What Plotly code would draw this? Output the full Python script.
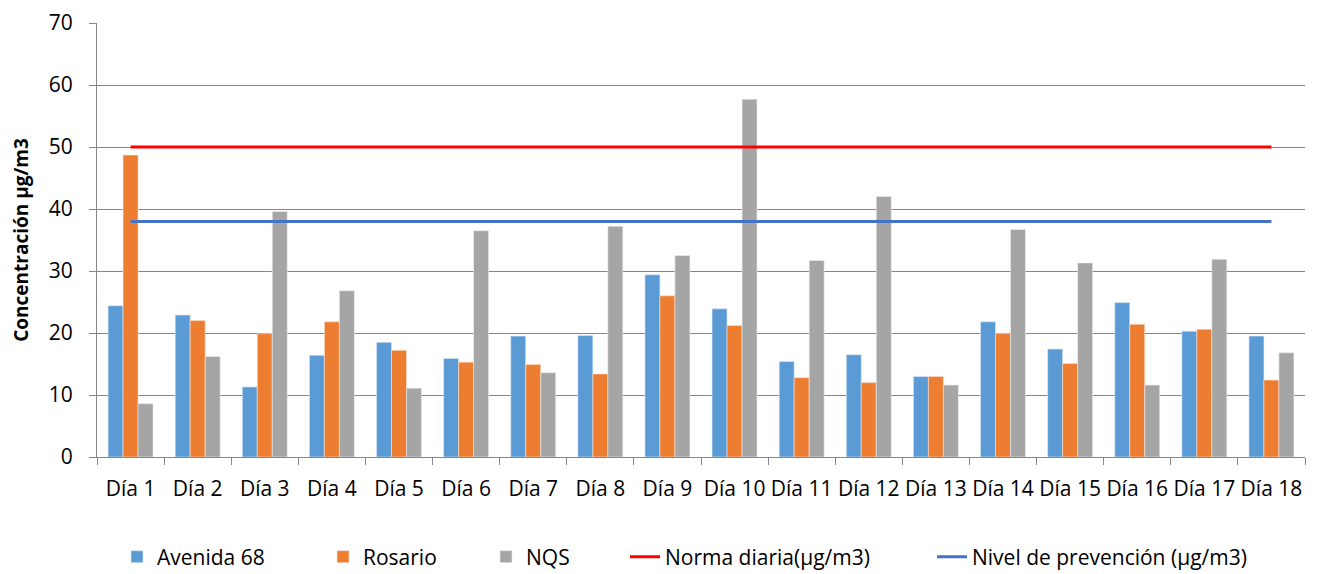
import plotly.graph_objects as go

dias = ["Día %d" % i for i in range(1, 19)]

avenida68 = [24.4, 22.9, 11.3, 16.4, 18.5, 15.9, 19.5, 19.6, 29.4,
             23.9, 15.4, 16.5, 13.0, 21.8, 17.4, 24.9, 20.3, 19.5]
rosario = [48.7, 22.0, 19.9, 21.8, 17.2, 15.3, 14.9, 13.4, 26.0,
           21.2, 12.8, 12.0, 13.0, 19.9, 15.1, 21.4, 20.6, 12.4]
nqs = [8.6, 16.2, 39.6, 26.8, 11.1, 36.5, 13.6, 37.2, 32.5,
       57.7, 31.7, 42.0, 11.6, 36.7, 31.3, 11.6, 31.9, 16.8]
norma_diaria = [50] * 18
nivel_prevencion = [38] * 18

font = "Open Sans"
fsize = 21
# page body has an 8px margin, so the figure is a bit smaller than the window
W, H = 1319, 566

fig = go.Figure()
fig.add_trace(go.Bar(x=dias, y=avenida68, name="Avenida 68", marker_color="#5B9BD5",
                     marker_line=dict(color="#DDEBF7", width=0.6), legend="legend"))
fig.add_trace(go.Bar(x=dias, y=rosario, name="Rosario", marker_color="#ED7D31",
                     marker_line=dict(color="#FBE2D5", width=0.6), legend="legend2"))
fig.add_trace(go.Bar(x=dias, y=nqs, name="NQS", marker_color="#A5A5A5",
                     marker_line=dict(color="#EDEDED", width=0.6), legend="legend3"))
fig.add_trace(go.Scatter(x=dias, y=norma_diaria, name="Norma diaria(µg/m3)",
                         mode="lines", line=dict(color="#FF0000", width=3), legend="legend4"))
fig.add_trace(go.Scatter(x=dias, y=nivel_prevencion, name="Nivel de prevención (µg/m3)",
                         mode="lines", line=dict(color="#4472C4", width=3), legend="legend5"))

# one small legend per entry, placed like the Excel legend row
leg_left_px = [109, 315, 478, 617, 924]


def leg(px):
    return dict(x=px / W, xref="container", xanchor="left",
                y=(H - 549) / H, yref="container", yanchor="middle",
                orientation="h", font=dict(size=fsize), bgcolor="rgba(0,0,0,0)")


fig.update_layout(
    width=W, height=H,
    margin=dict(l=89, r=22, t=15, b=117),
    paper_bgcolor="white", plot_bgcolor="white",
    font=dict(family=font, size=fsize, color="#000000"),
    barmode="group", bargap=0.33, bargroupgap=0,
    showlegend=True,
    legend=leg(leg_left_px[0]),
    legend2=leg(leg_left_px[1]),
    legend3=leg(leg_left_px[2]),
    legend4=leg(leg_left_px[3]),
    legend5=leg(leg_left_px[4]),
)
fig.update_xaxes(
    type="category", showline=True, linecolor="#868686", linewidth=1,
    ticks="outside", tickson="boundaries", ticklen=7, tickcolor="#868686",
    tickfont=dict(size=fsize), tickangle=0, showgrid=False, ticklabelstandoff=13,
    automargin=False,
)
fig.update_yaxes(
    range=[0, 70], dtick=10,
    showline=True, linecolor="#868686", linewidth=1,
    ticks="outside", ticklen=7, tickcolor="#868686",
    showgrid=True, gridcolor="#868686", gridwidth=1,
    tickfont=dict(size=fsize), zeroline=False, ticklabelstandoff=12,
    automargin=False,
    title=dict(text="<b>Concentración µg/m3</b>", font=dict(size=19), standoff=16),
)

fig.write_html("out.html")
